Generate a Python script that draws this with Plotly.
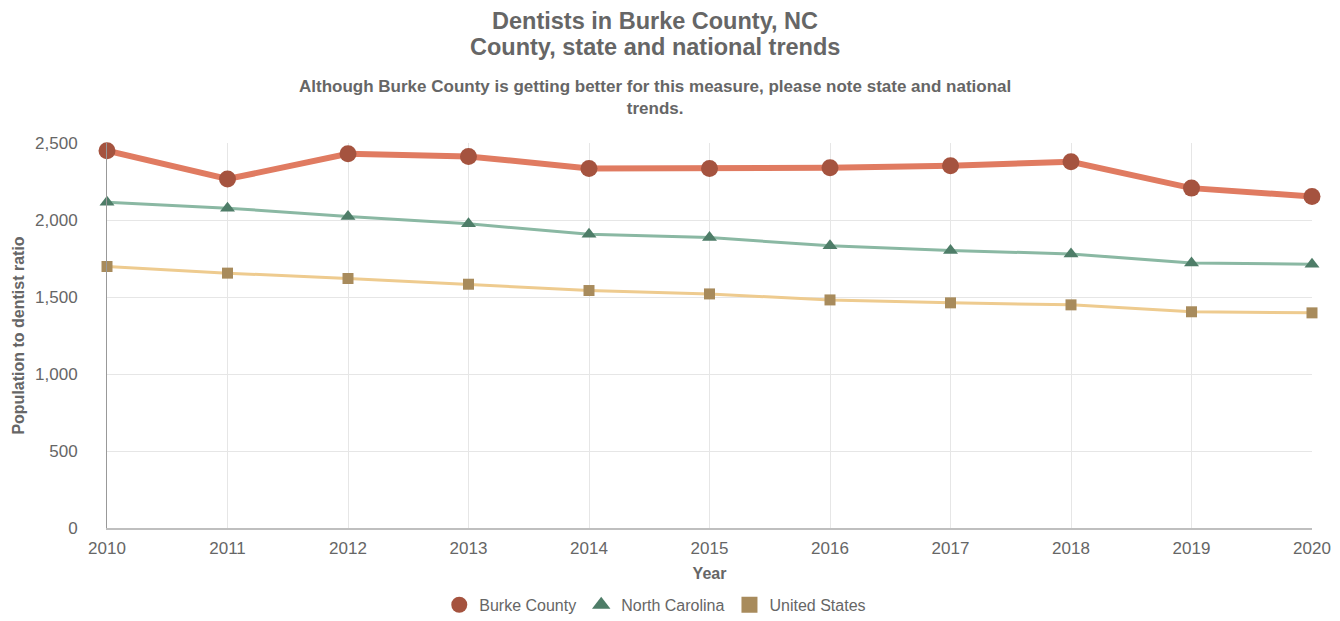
import plotly.graph_objects as go

years = [2010, 2011, 2012, 2013, 2014, 2015, 2016, 2017, 2018, 2019, 2020]
burke = [2450, 2266, 2430, 2413, 2335, 2335, 2339, 2352, 2378, 2207, 2153]
north_carolina = [2115, 2077, 2023, 1975, 1908, 1886, 1832, 1802, 1780, 1720, 1713]
united_states = [1698, 1655, 1620, 1583, 1542, 1520, 1481, 1462, 1449, 1404, 1397]
y_ticks = [0, 500, 1000, 1500, 2000, 2500]
y_tick_labels = ["0", "500", "1,000", "1,500", "2,000", "2,500"]

FONT = "Liberation Sans, Arial, sans-serif"
TEXT = "#666666"

series = [
    ("Burke County", burke, dict(color="#E07B61", width=6),
     dict(symbol="circle", size=17, color="#A5533F")),
    ("North Carolina", north_carolina, dict(color="#8AB8A3", width=3),
     dict(symbol="triangle-up", size=13, color="#4E7D68")),
    ("United States", united_states, dict(color="#EECB8F", width=3),
     dict(symbol="square", size=11, color="#A88B5C")),
]

fig = go.Figure()
for name, values, line, marker in series:
    fig.add_trace(go.Scatter(
        x=years, y=values, name=name, mode="lines+markers",
        line=line, marker=marker, cliponaxis=False, showlegend=False,
    ))
# legend entries show the marker glyph only
for name, values, line, marker in series:
    fig.add_trace(go.Scatter(
        x=[None], y=[None], name=name, mode="markers",
        marker=dict(marker, size=28 if marker["symbol"] == "circle" else 22),
        showlegend=True,
    ))

fig.update_layout(
    width=1340, height=621,
    margin=dict(l=107, r=28, t=143, b=93, autoexpand=False),
    paper_bgcolor="white", plot_bgcolor="white",
    font=dict(family=FONT, color=TEXT, size=16),
    showlegend=True,
    legend=dict(
        orientation="h", x=0.455, xanchor="center",
        yref="container", y=0.026, yanchor="middle",
        font=dict(size=16, color=TEXT), itemsizing="trace",
        traceorder="normal", itemwidth=30, tracegroupgap=0,
    ),
    hovermode=False,
)

# chart title and subtitle
fig.add_annotation(
    text="<b>Dentists in Burke County, NC</b>", xref="paper", yref="paper",
    x=0.455, y=1, yshift=122, xanchor="center", yanchor="middle", showarrow=False,
    font=dict(size=23.5, color=TEXT, family=FONT),
)
fig.add_annotation(
    text="<b>County, state and national trends</b>", xref="paper", yref="paper",
    x=0.455, y=1, yshift=96, xanchor="center", yanchor="middle", showarrow=False,
    font=dict(size=23.5, color=TEXT, family=FONT),
)
fig.add_annotation(
    text="<b>Although Burke County is getting better for this measure, please note state and national<br>trends.</b>",
    xref="paper", yref="paper", x=0.455, y=1, yshift=46, xanchor="center", yanchor="middle",
    showarrow=False, font=dict(size=17, color=TEXT, family=FONT), align="center",
)

fig.update_xaxes(
    range=[2010, 2020], tickmode="array", tickvals=years, ticktext=[str(y) for y in years],
    showgrid=True, gridcolor="#e6e6e6", gridwidth=1,
    showline=True, linecolor="#bfbfbf", linewidth=2,
    zeroline=False, tickfont=dict(size=17, color=TEXT), automargin=False,
    title=dict(text="<b>Year</b>", font=dict(size=16, color=TEXT), standoff=10),
    ticks="", ticklabelstandoff=4,
)
fig.update_yaxes(
    range=[0, 2500], tickvals=y_ticks, ticktext=y_tick_labels,
    showgrid=True, gridcolor="#e6e6e6", gridwidth=1,
    showline=True, linecolor="#999999", linewidth=1,
    zeroline=False, tickfont=dict(size=17, color=TEXT), automargin=False,
    ticks="", ticklabelstandoff=25,
    title=dict(text="<b>Population to dentist ratio</b>", font=dict(size=16, color=TEXT), standoff=6),
)

fig.write_html("out.html")
